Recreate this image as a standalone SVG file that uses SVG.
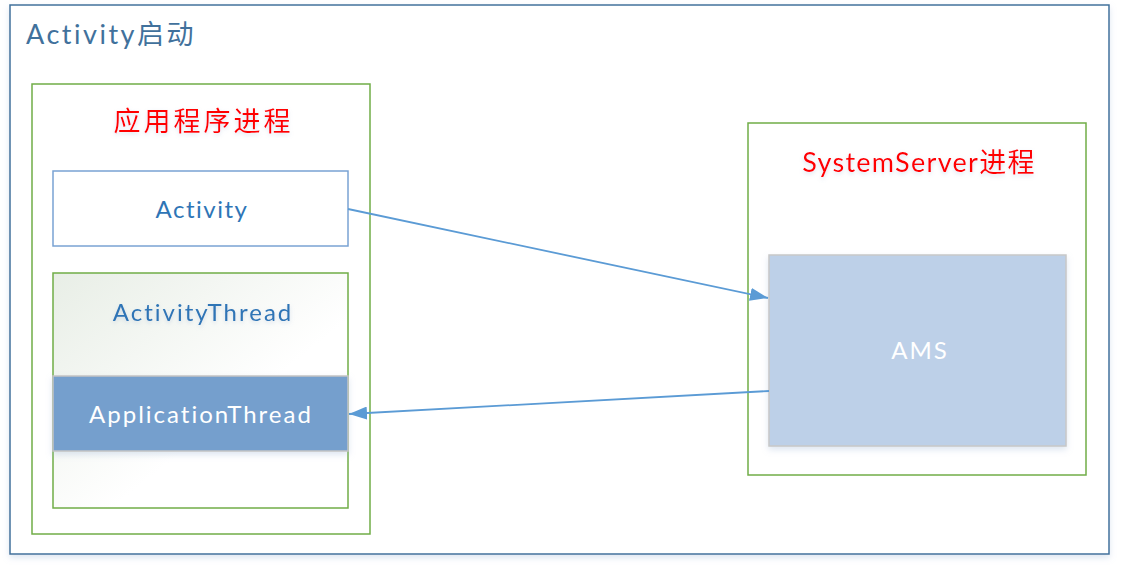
<svg xmlns="http://www.w3.org/2000/svg" width="1121" height="569" viewBox="0 0 1121 569">
<style>
text{font-family:Lato,"Noto Sans CJK SC",sans-serif;}
.grp{fill:none;stroke:#70AD47;stroke-width:1.5;}
.red{fill:#FF0000;font-size:27px;text-anchor:middle;}
.blue{fill:#2E75B6;font-size:24px;letter-spacing:2px;text-anchor:middle;}
.white{fill:#FFFFFF;font-size:24px;letter-spacing:2px;text-anchor:middle;}
.conn{stroke:#5B9BD5;stroke-width:1.8;fill:none;}
</style>
<defs>
<linearGradient id="gr" x1="0" y1="0" x2="1" y2="1">
<stop offset="0" stop-color="#E8EEE6"/>
<stop offset="0.6" stop-color="#FFFFFF"/>
</linearGradient>
<marker id="ah" viewBox="0 0 18 13" refX="18" refY="6.5" markerWidth="18" markerHeight="13" markerUnits="userSpaceOnUse" orient="auto-start-reverse">
<path d="M0,0 L18,6.5 L0,13 z" fill="#5B9BD5"/>
</marker>
<filter id="sh" x="-10%" y="-10%" width="120%" height="130%">
<feDropShadow dx="0" dy="3" stdDeviation="3" flood-color="#9fb6d6" flood-opacity="0.35"/>
</filter>
<filter id="tsh" x="-10%" y="-30%" width="120%" height="160%">
<feDropShadow dx="0" dy="2" stdDeviation="2" flood-color="#8fa9cf" flood-opacity="0.35"/>
</filter>
</defs>
<rect width="1121" height="569" fill="#FFFFFF"/>
<g id="outer">
<rect x="10" y="5" width="1099" height="549" fill="#FFFFFF" stroke="#41719C" stroke-width="1.5" filter="url(#sh)"/>
<text x="26" y="44" style="fill:#41719C;font-size:27px;letter-spacing:2.5px;">Activity启动</text>
</g>
<g id="app-process">
<rect x="32" y="84" width="338" height="450" class="grp"/>
<text x="203.5" y="131" class="red" style="letter-spacing:3px;" filter="url(#tsh)">应用程序进程</text>
</g>
<g id="activity">
<rect x="53" y="171" width="295" height="75" fill="#FFFFFF" stroke="#7AA3D3" stroke-width="1.5"/>
<text x="202" y="218" class="blue" style="letter-spacing:1.5px;">Activity</text>
</g>
<g id="activity-thread">
<rect x="53" y="273" width="295" height="235" fill="url(#gr)" stroke="#70AD47" stroke-width="1.5"/>
<text x="203" y="321" class="blue" filter="url(#tsh)">ActivityThread</text>
</g>
<g id="application-thread">
<rect x="53" y="376" width="295" height="75" fill="#759FCD" stroke="#C4C4C4" stroke-width="1.5" filter="url(#sh)"/>
<text x="201" y="423" class="white">ApplicationThread</text>
</g>
<g id="systemserver-process">
<rect x="748" y="123" width="338" height="352" class="grp"/>
<text x="919" y="172" class="red" style="letter-spacing:1.3px;" filter="url(#tsh)">SystemServer进程</text>
</g>
<g id="ams">
<rect x="769" y="255" width="297" height="191" fill="#BDD0E8" stroke="#C8C8C8" stroke-width="1.5" filter="url(#sh)"/>
<text x="920" y="359" class="white">AMS</text>
</g>
<g id="connectors">
<line x1="348" y1="209" x2="768" y2="298" class="conn" marker-end="url(#ah)"/>
<line x1="769" y1="391" x2="349" y2="414" class="conn" marker-end="url(#ah)"/>
</g>
</svg>
